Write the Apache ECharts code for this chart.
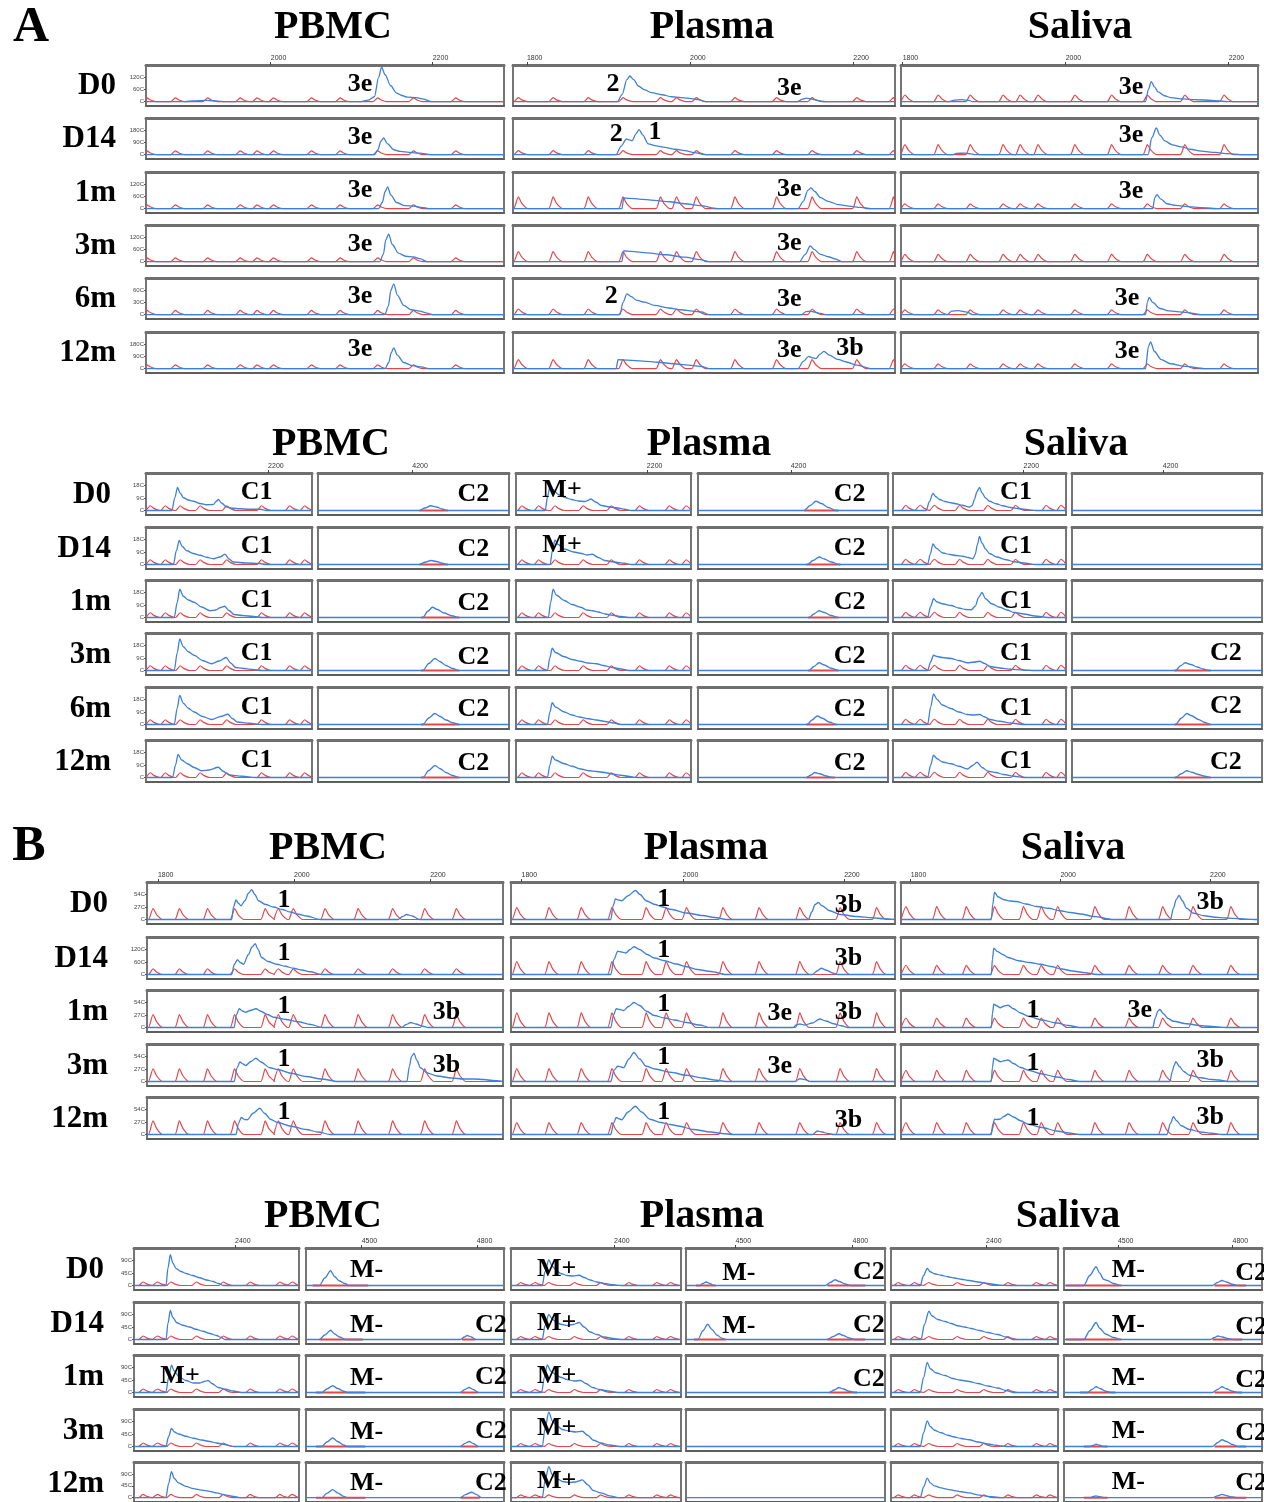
<!DOCTYPE html>
<html><head><meta charset="utf-8">
<script src="https://cdn.jsdelivr.net/npm/echarts@6/dist/echarts.min.js"></script>
<style>html,body{margin:0;padding:0;background:#fff}#c{width:1264px;height:1502px}</style>
</head><body><div id="c"></div>
<script>
// ---------------- DATA ----------------
const rowsA = ['D0','D14','1m','3m','6m','12m'];
const rowsB = ['D0','D14','1m','3m','12m'];
const samples = ['PBMC','Plasma','Saliva'];

// ---- A, upper block (x = % of panel width, y = signal units, 100 = top y-tick) ----
const aTopRulerTicks = [[2000,2200],[1800,2000,2200],[1800,2000,2200]];
const aTopRulerRange = [[1846,2288],[1783,2251],[1798,2236]];
const aTopYLabels = [['C','60C','120C'],['C','90C','180C'],['C','60C','120C'],['C','60C','120C'],['C','30C','60C'],['C','90C','180C']];
const aTopLadder = [
  [0.3,8.2,17.2,26.3,31.0,35.6,46.2,54.2,64.7,74.7,86.5],
  [1.4,10.5,19.7,28.8,38.6,42.8,48.0,58.1,69.0,78.3,90.0,99.6],
  [1.1,10.4,19.4,28.6,33.4,38.4,48.7,59.0,69.0,79.5,90.5]
];
const aTopLadderH = [[15,15,15,15,17,15],[16,16,48,41,23,37],[27,41,19,30,19,19]];
const aTopBlue = [
 [
  [[0,0],[11,0],[13,3],[17,5],[20,2],[22,0],[60,0],[62,6],[63.8,20],[65,100],[65.8,141],[66.8,110],[68.3,66],[70,35],[71.5,25],[73,18],[75.5,16],[77.5,10],[79.6,0],[100,0]],
  [[0,0],[63.8,0],[64.8,20],[65.6,55],[66.4,68],[67.4,45],[69.2,20],[71,13],[73.5,9],[76.5,6],[79.6,0],[100,0]],
  [[0,0],[65,0],[66,25],[66.8,70],[67.5,89],[68.4,55],[70,25],[72.3,12],[75,10],[77,5],[79,0],[100,0]],
  [[0,0],[65.3,0],[66.3,30],[67,90],[67.8,112],[68.8,70],[70.5,35],[72.5,22],[74.8,19],[76.5,12],[78.5,0],[100,0]],
  [[0,0],[66.7,0],[67.7,35],[68.4,100],[69.2,126],[70.2,80],[72,38],[74,20],[76.5,14],[78.5,6],[80,0],[100,0]],
  [[0,0],[66.8,0],[67.8,25],[68.5,65],[69.2,85],[70.2,55],[72,25],[74.5,12],[77,7],[79,0],[100,0]]
 ],
 [
  [[0,0],[27.3,0],[28.6,30],[29.8,90],[30.6,105],[31.6,90],[32.8,64],[34.5,48],[36.2,37],[39,28],[41.5,20],[44,16],[46.7,12],[48.5,8],[50.2,0],[74.5,0],[75.8,10],[76.8,14],[78.3,10],[80,4],[81.7,0],[100,0]],
  [[0,0],[27,0],[28.3,35],[29.7,64],[30.5,60],[31.2,57],[32.2,85],[33,102],[34,80],[35.4,44],[37.5,36],[39.7,30],[42.5,22],[45,16],[47.5,8],[50.2,0],[100,0]],
  [[0,0],[28.5,0],[29,44],[30.5,42],[33,39],[37,34],[41,28],[45,20],[49,12],[53.5,0],[74.6,0],[76,30],[77.2,75],[78,85],[79,70],[80.5,45],[82.5,30],[85.2,16],[88,10],[91,5],[93.7,0],[100,0]],
  [[0,0],[28.5,0],[29,44],[31,42],[35,36],[40,28],[45,18],[49,8],[51.4,0],[75,0],[76.5,30],[77.8,64],[78.8,50],[80.5,30],[82.5,20],[84.5,10],[86,0],[100,0]],
  [[0,0],[28,0],[28.8,50],[29.8,85],[30.8,75],[32.5,58],[34.5,51],[37,38],[40.8,27],[44,20],[47,14],[49.3,11],[51.4,0],[75.5,0],[76.7,12],[77.8,14],[79,10],[80.5,5],[82,0],[100,0]],
  [[0,0],[27,0],[27.5,37],[30,35],[34,31],[38,26],[42,20],[46,14],[49.5,8],[51.4,0],[74.6,0],[76,30],[77.4,50],[78.4,44],[79.3,41],[80.3,58],[81.4,71],[82.8,55],[85,38],[87.3,27],[90,14],[93.7,0],[100,0]]
 ],
 [
  [[0,0],[13.5,0],[15,6],[17,8],[19,5],[20,0],[68.5,0],[69.3,50],[70.1,82],[71,60],[72,40],[73.8,24],[75.7,16],[79,11],[82.3,8],[87,5],[91.6,0],[100,0]],
  [[0,0],[14.5,0],[15.5,5],[18,6],[19.5,3],[20.5,0],[69.2,0],[70.3,70],[71.5,109],[72.5,80],[73.9,56],[76,40],[78.5,32],[81,22],[84.1,14],[88,9],[91.6,4],[95,0],[100,0]],
  [[0,0],[70.5,0],[71.1,45],[71.7,57],[72.7,40],[74.5,20],[77,13],[79.6,9],[83,5],[88.7,0],[100,0]],
  [[0,0],[100,0]],
  [[0,0],[13,0],[14.2,14],[16,16],[18.5,10],[20,0],[68.5,0],[69,50],[69.5,71],[70.5,50],[72.5,25],[75,15],[79.6,9],[84,0],[100,0]],
  [[0,0],[68.5,0],[69.3,90],[69.9,109],[71,70],[72.9,37],[75.5,20],[79.6,9],[85,0],[100,0]]
 ]
];
const aTopNotes = [
 [[['3e',59.8,71]],[['3e',59.8,70]],[['3e',59.8,75]],[['3e',59.8,73]],[['3e',59.8,75]],[['3e',59.8,80]]],
 [[['2',26.2,73],['3e',72.3,55]],[['2',27,84],['1',37.2,91]],[['3e',72.3,79]],[['3e',72.3,75]],[['2',25.7,77],['3e',72.3,64]],[['3e',72.3,77],['3b',88.2,82]]],
 [[['3e',64.4,59]],[['3e',64.4,80]],[['3e',64.4,69]],[],[['3e',63.3,67]],[['3e',63.3,71]]]
];

// ---- A, lower block (left / right sub-panels) ----
const aBotRulerTicksL = [[2200],[2200],[2200]];
const aBotRulerRangeL = [[2047,2255],[2037,2255],[2037,2253]];
const aBotRulerTicksR = [[4200],[4200],[4200]];
const aBotRulerRangeR = [[3964,4442],[3968,4443],[3973,4448]];
const aBotYLabels = [['C','9C','18C'],['C','9C','18C'],['C','9C','18C'],['C','9C','18C'],['C','9C','18C'],['C','9C','18C']];
const aBotLadder = [
  [2.6,11.6,20.6,32.6,48.6,69.6,86.6,95.6],
  [3.4,12.9,22.3,38.4,54.5,70.6,87.7,97.2],
  [7.3,15.8,24.0,38.5,54.8,70.8,88.5,97.1]
];
const aBotLadderH = [[19,19,19,19,19,19],[19,19,19,19,19,19],[21,21,21,21,21,21]];
const aBotBlueL = [
 [
  [[0,0],[15.6,0],[17.3,50],[19,92],[20.5,70],[22.6,51],[25.5,42],[28.6,37],[32.6,28],[36.6,23],[40.6,24],[42.2,36],[43.6,44],[45.5,30],[48.6,14],[52,9],[56.6,7],[62,5],[68.6,5],[72.6,0],[100,0]],
  [[0,0],[16.5,0],[18.3,55],[20,96],[21.8,72],[24.6,55],[28.5,44],[32.6,37],[36.5,29],[40.6,23],[44.5,30],[47.6,41],[50,22],[52.6,10],[60,6],[68.6,4],[72,0],[100,0]],
  [[0,0],[17,0],[18.8,60],[20.3,113],[22.5,85],[25.5,70],[29,61],[33.5,42],[38.6,27],[42,30],[45,40],[47.3,45],[50,28],[53,12],[58,8],[65,4],[70,0],[100,0]],
  [[0,0],[17,0],[18.8,70],[20.3,126],[22.5,95],[25.5,75],[29,61],[34,40],[39.6,27],[44,38],[48.3,52],[51,30],[54,12],[58,9],[64,4],[70,0],[100,0]],
  [[0,0],[17,0],[18.8,65],[20.3,116],[22.5,85],[25.5,65],[29,50],[34,32],[39.6,20],[45,32],[49.3,41],[52,24],[55,10],[62,5],[70,0],[100,0]],
  [[0,0],[16,0],[17.8,50],[19.3,92],[21.5,70],[25,55],[29,40],[33.5,27],[38,30],[43.5,41],[46.5,25],[50,10],[58,5],[66,0],[100,0]]
 ],
 [
  [[0,0],[16.7,0],[18,55],[19.5,98],[21,85],[24.2,64],[28,52],[31.8,44],[35.5,38],[39.4,36],[41,40],[42.8,46],[45.5,34],[48.9,20],[53.5,14],[58.3,10],[62,5],[65.9,0],[100,0]],
  [[0,0],[19.5,0],[20.8,55],[22.3,98],[24,80],[28,61],[33,50],[37.5,44],[40.5,38],[43.6,41],[47,28],[50.8,16],[56,10],[62,5],[65.9,0],[100,0]],
  [[0,0],[18.5,0],[19.8,60],[21.2,113],[23,90],[27.6,68],[32,52],[36.9,41],[40.5,30],[43.8,27],[47,22],[51,14],[55.3,9],[60,4],[64.5,0],[100,0]],
  [[0,0],[18,0],[19.3,50],[20.7,89],[22.5,72],[27.6,55],[32,44],[36.9,37],[41,30],[46.1,27],[50,20],[55,12],[60,6],[64.5,0],[100,0]],
  [[0,0],[18,0],[19.3,48],[20.7,87],[22.5,70],[27.6,50],[32,38],[36,30],[41.5,23],[46,18],[51,12],[55,7],[59.9,0],[100,0]],
  [[0,0],[18,0],[19.3,48],[20.7,85],[22.5,70],[27.6,55],[32,45],[36.9,34],[42,27],[46,24],[50.7,20],[55,14],[60,9],[64,5],[69,0],[100,0]]
 ],
 [
  [[0,0],[19.2,0],[21,35],[23.1,68],[24.8,55],[26.9,44],[30,36],[33.5,31],[36.5,27],[40,21],[44.2,14],[45.8,20],[47.1,45],[48.5,75],[50,92],[51.5,70],[53.5,50],[55.8,37],[59.5,27],[63.5,19],[68,12],[73.1,7],[78,3],[82.7,0],[100,0]],
  [[0,0],[20,0],[21.5,40],[23.1,82],[25,65],[28.8,46],[33,40],[36.5,36],[40.4,33],[43.5,28],[46.2,23],[47.5,40],[48.8,80],[50,112],[51.5,85],[53.5,62],[55.8,44],[60,30],[65.4,19],[70,11],[76.9,5],[82,0],[100,0]],
  [[0,0],[20,0],[21.8,45],[23.4,75],[25.5,62],[28.5,55],[33.6,48],[38,38],[42,32],[45.3,31],[47.5,45],[49.5,80],[51.4,100],[53.5,75],[57,55],[61.7,41],[66,30],[70,20],[75.7,14],[82,6],[89.7,0],[100,0]],
  [[0,0],[20,0],[21.8,35],[23.4,61],[25.5,56],[28.5,52],[33.6,48],[38,40],[43,31],[46.5,33],[50,37],[53,28],[56,16],[61.7,10],[68,5],[75,2],[82,0],[100,0]],
  [[0,0],[20,0],[21.8,70],[23.4,122],[25.5,100],[28.5,78],[33.6,64],[38,50],[43,40],[46.5,38],[50,40],[53,30],[56,20],[61.7,13],[68,6],[75,0],[100,0]],
  [[0,0],[20,0],[21.8,50],[23.4,89],[25.5,75],[28.5,62],[33.6,55],[38,45],[43,34],[46,48],[48.6,61],[51.5,40],[55,25],[59.3,20],[64,12],[70,5],[75.7,0],[100,0]]
 ]
];
const aBotBlueR = [
 [
  [[0,0],[53,0],[56,10],[59.1,19],[62,14],[65,6],[67.8,0],[100,0]],
  [[0,0],[53,0],[56,9],[59.1,16],[62,12],[65,5],[67.8,0],[100,0]],
  [[0,0],[54.9,0],[57.5,25],[59.9,41],[62.5,32],[66,18],[70,7],[73.8,0],[100,0]],
  [[0,0],[54.9,0],[58,28],[61.2,48],[64,35],[67,20],[70.5,8],[73.8,0],[100,0]],
  [[0,0],[54.9,0],[58,26],[61.2,44],[64,32],[67,18],[70.5,7],[73.8,0],[100,0]],
  [[0,0],[54.9,0],[58,28],[61.2,48],[64,35],[67,20],[70.5,8],[73.8,0],[100,0]]
 ],
 [
  [[0,0],[55.9,0],[59,20],[62.1,37],[65,28],[68.5,12],[72.7,0],[100,0]],
  [[0,0],[57.7,0],[60.5,16],[63.8,30],[66.5,22],[70,10],[74.4,0],[100,0]],
  [[0,0],[58.5,0],[61,14],[63.7,27],[66.5,20],[70,8],[74,0],[100,0]],
  [[0,0],[58.5,0],[61,16],[63.7,31],[66.5,22],[70,9],[74,0],[100,0]],
  [[0,0],[57.5,0],[60,18],[62.8,34],[65.5,25],[69,10],[73,0],[100,0]],
  [[0,0],[57,0],[59.5,10],[61.5,20],[64,15],[67.5,6],[71,0],[100,0]]
 ],
 [
  [[0,0],[100,0]],
  [[0,0],[100,0]],
  [[0,0],[100,0]],
  [[0,0],[54.5,0],[57,18],[59.6,31],[62.5,24],[66,14],[69,6],[72.3,0],[100,0]],
  [[0,0],[54.5,0],[57.5,25],[60.4,44],[63,35],[66.5,20],[70,8],[73,0],[100,0]],
  [[0,0],[54.5,0],[57.5,15],[60.4,27],[63,21],[66.5,12],[70,5],[73,0],[100,0]]
 ]
];
const aBotRedR = [
 [[[53,68]],[[53,68]],[[54,74]],[[54,74]],[[54,74]],[[54,74]]],
 [[[56,74]],[[57,75]],[[58,74]],[[58,74]],[[57,73]],[[57,72]]],
 [[],[],[],[[54,73]],[[54,73]],[[54,73]]]
];
const aBotNotesL = [
 [[['C1',66.6,72]],[['C1',66.6,72]],[['C1',66.6,68]],[['C1',66.6,70]],[['C1',66.6,68]],[['C1',66.6,68]]],
 [[['M+',26.3,80]],[['M+',26.3,78]],[],[],[],[]],
 [[['C1',71.1,74]],[['C1',71.1,74]],[['C1',71.1,66]],[['C1',71.1,70]],[['C1',71.1,66]],[['C1',71.1,66]]]
];
const aBotNotesR = [
 [[['C2',81.3,66]],[['C2',81.3,62]],[['C2',81.3,58]],[['C2',81.3,54]],[['C2',81.3,62]],[['C2',81.3,58]]],
 [[['C2',79.8,66]],[['C2',79.8,66]],[['C2',79.8,62]],[['C2',79.8,58]],[['C2',79.8,62]],[['C2',79.8,58]]],
 [[],[],[],[['C2',81,70]],[['C2',81,74]],[['C2',81,62]]]
];

// ---- B, upper block ----
const bTopRulerTicks = [[1800,2000,2200],[1800,2000,2200],[1800,2000,2200]];
const bTopRulerRange = [[1784,2307],[1787,2263],[1787,2264]];
const bTopYLabels = [['C','27C','54C'],['C','60C','120C'],['C','27C','54C'],['C','27C','54C'],['C','27C','54C']];
const bTopLadder = [
  [1.7,9.1,17.0,24.6,33.2,36.9,41.1,50.0,59.3,69.0,78.0,86.9],
  [1.5,9.9,18.3,26.3,35.2,40.4,45.7,55.2,64.6,75.2,85.7,95.2],
  [1.4,10.0,18.3,26.2,34.3,39.3,43.9,54.3,63.9,73.3,81.8,92.4]
];
const bTopLadderH = [[44,23,52,51,55],[48,52,59,52,48],[52,37,38,45,48]];
const bTopBlue = [
 [
  [[0,0],[23.8,0],[24.3,50],[25,78],[25.7,65],[26.4,55],[27.5,75],[28.5,105],[29.4,119],[30.3,100],[31.3,75],[33.3,60],[35.5,50],[38,40],[40.2,30],[42.5,21],[44.9,14],[48.6,0],[70.5,0],[71.8,12],[72.9,20],[74.5,14],[76.6,0],[100,0]],
  [[0,0],[23.8,0],[24.5,40],[25.4,59],[26.2,48],[27.1,41],[28.5,80],[29.5,110],[30.4,123],[31.2,100],[32.2,68],[34,52],[36.4,41],[38.8,33],[41.1,25],[43.5,18],[45.8,11],[49,0],[100,0]],
  [[0,0],[24.5,0],[25.1,50],[25.9,75],[26.8,66],[27.7,61],[29,68],[30.6,75],[32,65],[33.8,52],[35.6,41],[39,32],[42.4,23],[46,12],[49.2,0],[71.5,0],[72.8,12],[74.1,20],[75.5,14],[77.5,5],[79,0],[100,0]],
  [[0,0],[24.5,0],[25.3,55],[26.1,78],[27,70],[27.7,64],[29.2,80],[30.6,93],[32,78],[34.5,55],[36.7,48],[40.5,33],[44.7,20],[49,10],[53.7,0],[73,0],[73.7,60],[74.3,100],[75,112],[75.8,85],[76.8,55],[78.7,34],[81.5,22],[85.5,14],[89,10],[92,10],[94.6,8],[97,4],[100,0]],
  [[0,0],[25,0],[25.7,45],[26.5,68],[27.4,60],[28.2,59],[29.8,85],[31.7,105],[33,85],[34.8,60],[36.7,48],[40.5,33],[44.7,20],[48,10],[51.5,0],[100,0]]
 ],
 [
  [[0,0],[26,0],[26.6,55],[27.2,82],[28,78],[28.8,75],[30.5,95],[32.4,116],[33.6,100],[35.2,75],[37.5,60],[39.5,50],[41.5,41],[45.7,26],[49.9,16],[53,8],[56.2,0],[77.5,0],[78.3,30],[79.2,60],[80,68],[81,55],[83,35],[85.7,20],[90,12],[94.1,7],[97,3],[100,0]],
  [[0,0],[26,0],[26.8,60],[27.8,93],[28.8,90],[29.9,86],[31,100],[32,111],[33.5,100],[35.5,80],[37.3,66],[40,55],[43,42],[45.7,31],[48.5,20],[52,12],[56,0],[78.5,0],[79.8,15],[80.8,25],[82,18],[84,5],[85,0],[100,0]],
  [[0,0],[26,0],[26.7,50],[27.4,75],[28.3,72],[29.3,68],[30.7,85],[32,100],[33.5,88],[35.3,65],[37.3,48],[40,38],[42.5,30],[45.7,20],[49,10],[52,0],[73.5,0],[74.3,10],[75.2,14],[76.5,10],[78.5,18],[80.4,34],[82,26],[84,15],[86,7],[87.8,0],[100,0]],
  [[0,0],[26,0],[26.8,45],[27.8,61],[28.8,58],[29.3,55],[30.7,90],[32,116],[33.5,90],[35.2,61],[37.5,50],[41.5,37],[45.7,25],[49.9,14],[53,6],[56,0],[74,0],[75.2,11],[76.5,8],[78,0],[100,0]],
  [[0,0],[26,0],[26.7,45],[27.4,68],[28.3,62],[28.8,59],[30.5,90],[32.4,113],[34,90],[36.2,61],[39,48],[41.5,40],[43.6,34],[47.5,20],[52,10],[55,4],[58,0],[78.5,0],[79.8,14],[81,10],[82.5,4],[84,0],[100,0]]
 ],
 [
  [[0,0],[25.3,0],[25.7,60],[26.2,109],[27.2,90],[28.9,79],[30.5,74],[32.3,72],[35,62],[38,52],[41.3,45],[44.5,35],[47.5,28],[50.3,22],[54,12],[59.4,0],[75.5,0],[76.3,45],[77.1,80],[77.9,96],[78.8,75],[80,45],[81.9,25],[85,15],[88,9],[91,6],[95,3],[99,0],[100,0]],
  [[0,0],[25.3,0],[25.6,60],[26,105],[27,92],[28.5,80],[30,68],[33,55],[36,48],[39.1,41],[42,32],[45,22],[48.1,14],[51,8],[55,0],[100,0]],
  [[0,0],[25.3,0],[25.6,55],[26,93],[26.9,86],[27.8,79],[28.9,86],[30,89],[31.5,75],[33.5,58],[35.7,45],[39.5,30],[43.6,18],[47,8],[50,0],[70.5,0],[71.3,40],[71.9,65],[72.5,72],[73.5,55],[74.8,36],[76.3,25],[80,15],[84.2,7],[88,3],[91,0],[100,0]],
  [[0,0],[25.3,0],[25.6,55],[26,93],[26.9,86],[27.8,79],[28.9,83],[30,86],[31.5,72],[33.5,56],[35.7,45],[39.5,30],[43.6,18],[47,8],[50,0],[75.3,0],[76,40],[76.5,65],[77,79],[78,60],[79.2,40],[80.8,25],[84,15],[87,8],[89,6],[91.5,0],[100,0]],
  [[0,0],[25.3,0],[25.7,40],[26.2,61],[27,60],[27.8,62],[28.9,73],[30,82],[31.5,70],[33.5,55],[35.7,41],[39.5,28],[43.6,14],[47,6],[50,0],[74.5,0],[75.5,45],[76.3,71],[77.2,55],[78.5,35],[80.8,20],[84,10],[87,5],[90,0],[100,0]]
 ]
];
const bTopNotes = [
 [[['1',38.5,76]],[['1',38.5,85]],[['1',38.5,83],['3b',84.1,62]],[['1',38.5,89],['3b',84.1,65]],[['1',38.5,90]]],
 [[['1',39.8,80],['3b',87.9,58]],[['1',39.8,96],['3b',87.9,65]],[['1',39.8,91],['3e',70,55],['3b',87.9,62]],[['1',39.8,96],['3e',70,61]],[['1',39.8,90],['3b',87.9,58]]],
 [[['3b',86.6,69]],[],[['1',37,68],['3e',66.9,70]],[['1',37,74],['3b',86.6,86]],[['1',37,66],['3b',86.6,69]]]
];

// ---- B, lower block ----
const bBotRulerTicksL = [[2400],[2400],[2400]];
const bBotRulerRangeL = [[2198,2528],[2194,2534],[2210,2544]];
const bBotRulerTicksR = [[4500,4800],[4500,4800],[4500,4800]];
const bBotRulerRangeR = [[4355,4871],[4373,4883],[4359,4877]];
const bBotYLabels = [['C','45C','90C'],['C','45C','90C'],['C','45C','90C'],['C','45C','90C'],['C','45C','90C']];
const bBotLadder = [
  [5.5,14.3,22.4,37.8,54.1,70.4,88.4,95.9],
  [5.7,14.2,22.2,37.3,52.8,69.3,85.8,93.9],
  [4.3,14.0,22.7,39.6,55.6,70.0,87.0,95.2]
];
const bBotLadderH = [[14,14,14,14,14],[12,12,12,12,12],[12,12,12,12,12]];
const bBotBlueL = [
 [
  [[0,0],[19.4,0],[20.6,70],[22,123],[23.5,90],[25.5,68],[28.5,56],[31.6,48],[35.5,40],[39.8,31],[44,22],[48,16],[51,8],[54.1,0],[100,0]],
  [[0,0],[19.4,0],[20.6,65],[22,116],[23.5,88],[26,67],[29.5,57],[33.7,50],[37.5,41],[41.8,33],[46,24],[50,16],[53,8],[55,0],[100,0]],
  [[0,0],[19.3,0],[21,60],[22.7,109],[24.5,85],[27,65],[31.4,48],[36,38],[40,38],[42.5,44],[44.9,48],[47.5,35],[51,20],[55.6,13],[60,6],[65.2,0],[100,0]],
  [[0,0],[19.3,0],[21,40],[22.7,72],[24.5,58],[27,50],[31.4,41],[36,33],[41,26],[45.9,20],[50,14],[55,8],[60.4,0],[100,0]],
  [[0,0],[19.3,0],[21,60],[22.7,109],[24.5,80],[27,62],[31.4,48],[36,38],[41,32],[45.9,27],[50,20],[55,12],[60.4,5],[65,0],[100,0]]
 ],
 [
  [[0,0],[18.4,0],[20,55],[22.2,102],[24.5,75],[27,58],[29.2,48],[33,40],[36.5,38],[40.1,41],[43,32],[46.5,22],[50.5,14],[55,8],[60,3],[64.6,0],[100,0]],
  [[0,0],[18.4,0],[20,55],[22.2,100],[24.5,80],[27,68],[29.2,61],[33,56],[36.5,60],[40.1,68],[43,50],[46.5,30],[50.5,20],[55,10],[60,4],[64.6,0],[100,0]],
  [[0,0],[18,0],[19.6,60],[21.3,110],[23.5,85],[26.5,70],[29.2,61],[33,52],[37,46],[41,48],[44,36],[48,20],[52,12],[57,6],[63,0],[100,0]],
  [[0,0],[18.4,0],[20,70],[22.2,137],[24.5,100],[27.5,80],[30.2,68],[34,62],[38,58],[42,61],[45,45],[48.5,25],[52.8,14],[58,6],[64,0],[100,0]],
  [[0,0],[18.4,0],[20,70],[22.2,130],[24.5,95],[27.5,78],[30.2,68],[34,64],[38,66],[42,75],[45,55],[48.5,30],[52.8,20],[58,8],[64,0],[100,0]]
 ],
 [
  [[0,0],[17.5,0],[19.5,40],[21.7,68],[23.5,55],[26,47],[30,41],[34,35],[38,30],[42,25],[46.9,20],[52,14],[58,8],[62,4],[66.2,1],[70,0],[100,0]],
  [[0,0],[18,0],[20,60],[22.7,113],[24.5,95],[28,80],[32.4,72],[36,64],[40,55],[44,50],[48,44],[53,36],[58,28],[63.8,20],[69,10],[73,0],[100,0]],
  [[0,0],[17.5,0],[19.5,60],[21.7,120],[23.5,95],[27,78],[32.4,68],[37,56],[41,50],[46.9,44],[52,36],[58,26],[63.8,18],[69,8],[73,0],[100,0]],
  [[0,0],[17.5,0],[19.5,55],[21.7,102],[23.5,80],[26,65],[30,55],[34,45],[38,38],[42,32],[46.9,27],[52,18],[58,10],[63,5],[66.2,2],[70,0],[100,0]],
  [[0,0],[17.5,0],[19.5,45],[21.7,82],[23.5,62],[26,50],[30,41],[34,35],[38,30],[42,25],[46.9,20],[52,12],[58,6],[66,0],[100,0]]
 ]
];
const bBotBlueR = [
 [
  [[0,0],[6.8,0],[9.5,30],[12.4,59],[14.5,35],[16.9,18],[19.5,8],[22,0],[100,0]],
  [[0,0],[6.8,0],[9.5,18],[12.4,37],[14.5,22],[16.9,10],[20,0],[78,0],[80,10],[81.4,16],[83.5,10],[85.6,0],[100,0]],
  [[0,0],[8,0],[10.5,14],[13.5,27],[16,16],[19,5],[21,0],[78,0],[80.2,12],[82.4,20],[84.5,12],[87,0],[100,0]],
  [[0,0],[8,0],[10.5,18],[13.5,34],[16,20],[19,6],[21,0],[78,0],[80.2,12],[82.4,20],[84.5,12],[87,0],[100,0]],
  [[0,0],[8,0],[10.5,18],[13.5,34],[16,20],[19,6],[21,0],[78,0],[80.5,13],[83.6,23],[86,14],[88.5,0],[100,0]]
 ],
 [
  [[0,0],[7,0],[8.5,8],[10.1,14],[12,8],[14,0],[70,0],[72.5,12],[74.9,23],[77,16],[80,6],[83,0],[100,0]],
  [[0,0],[6,0],[8.5,35],[10.9,61],[13,40],[15.5,18],[18,5],[20,0],[71,0],[74,12],[76.9,23],[79,16],[82,6],[85,0],[100,0]],
  [[0,0],[72,0],[74.5,10],[76.9,20],[79,14],[82,5],[85,0],[100,0]],
  [[0,0],[100,0]],
  [[0,0],[100,0]]
 ],
 [
  [[0,0],[10,0],[13,40],[16.2,75],[18,50],[20,25],[21.9,20],[25,8],[29,0],[75,0],[77.5,12],[79.8,20],[82,14],[85,5],[88,0],[100,0]],
  [[0,0],[10,0],[13,35],[16.2,68],[18,45],[21,22],[25,8],[29,0],[74,0],[76,8],[77.7,14],[80,10],[83,3],[86,0],[100,0]],
  [[0,0],[12,0],[14,12],[16.2,23],[18.5,15],[21,5],[24,0],[75,0],[77.5,12],[79.8,23],[82,15],[85,5],[88,0],[100,0]],
  [[0,0],[13,0],[15,5],[16.2,9],[18,5],[20,0],[75,0],[77.5,15],[79.8,27],[82,20],[85,8],[88,0],[100,0]],
  [[0,0],[13,0],[15,5],[16.2,8],[18,4],[20,0],[75,0],[77.5,8],[79.8,14],[82,9],[85,3],[88,0],[100,0]]
 ]
];
const bBotRedR = [
 [[[3.4,31.4]],[[6.8,28.8],[78.8,85.6]],[[5,30],[78,87]],[[5,30],[78,87]],[[5,30],[78,88]]],
 [[[5,15],[71,90]],[[4,20],[71,90]],[[72,86]],[],[]],
 [[[1,29],[76,92]],[[1,29],[75,90]],[[8,26],[76,90]],[[10,22],[76,92]],[[10,22],[76,92]]]
];
const bBotNotesL = [
 [[],[],[['M+',27.9,63]],[],[]],
 [[['M+',26.8,65]],[['M+',26.8,65]],[['M+',26.8,63]],[['M+',26.8,73]],[['M+',26.8,71]]],
 [[],[],[],[],[]]
];
const bBotNotesR = [
 [[['M-',30.6,62]],[['M-',30.6,58],['C2',93.4,58]],[['M-',30.6,55],['C2',93.4,60]],[['M-',30.6,58],['C2',93.4,62]],[['M-',30.6,62],['C2',93.4,62]]],
 [[['M-',26.5,50],['C2',91.9,52]],[['M-',26.5,53],['C2',91.9,55]],[['C2',91.9,53]],[],[]],
 [[['M-',32.5,62],['C2',94.5,49]],[['M-',32.5,58],['C2',94.5,50]],[['M-',32.5,55],['C2',94.5,50]],[['M-',32.5,59],['C2',94.5,54]],[['M-',32.5,65],['C2',94.5,61]]]
];

// ---------------- LAYOUT / STYLE ----------------
const RED = '#e2474c', BLUE = '#3f80d8', SERIF = '"Liberation Serif","Times New Roman",serif';
const Y_MIN = -18, Y_MAX = 150, Y_TICKS = [0, 50, 100];

const option = { animation: false, backgroundColor: '#fff', grid: [], xAxis: [], yAxis: [], series: [], graphic: [] };

function ladderPoints(pos, h, width) {
  const k = 100 / width;
  const pts = [[0, 0]];
  pos.forEach(p => {
    pts.push([Math.max(p - 4.5 * k, 0), 0], [p, h], [Math.min(p + 3.5 * k, 100), h * 0.45], [Math.min(p + 9.5 * k, 100), 0]);
  });
  pts.push([100, 0]);
  return pts;
}

function addPanel(p) {
  const gi = option.grid.length;
  option.grid.push({ left: p.left, top: p.top, width: p.width, height: p.height, show: true,
    borderColor: '#3c3c3c', borderWidth: 1.4, backgroundColor: '#fff' });
  const xi = option.xAxis.length;
  option.xAxis.push({ type: 'value', gridIndex: gi, min: 0, max: 100, position: 'bottom',
    axisLine: { show: true, onZero: false, lineStyle: { color: '#5e5e5e', width: 2 } },
    axisTick: { show: false }, axisLabel: { show: false }, splitLine: { show: false } });
  option.xAxis.push({ type: 'value', gridIndex: gi, position: 'top',
    min: p.ruler ? p.ruler.range[0] : 0, max: p.ruler ? p.ruler.range[1] : 100,
    axisLine: { show: true, onZero: false, lineStyle: { color: '#6f6f6f', width: 3 } },
    axisTick: { show: !!p.showRuler, customValues: p.ruler ? p.ruler.ticks : [], length: 3, lineStyle: { color: '#444' } },
    axisLabel: { show: !!p.showRuler, customValues: p.ruler ? p.ruler.ticks : [], fontSize: 7, color: '#333',
      align: 'left', margin: 3, fontFamily: 'Liberation Sans', formatter: v => String(v) },
    splitLine: { show: false } });
  const yi = option.yAxis.length;
  const yl = p.yLabels;
  option.yAxis.push({ type: 'value', gridIndex: gi, min: Y_MIN, max: Y_MAX,
    axisLine: { show: !!yl, lineStyle: { color: '#777', width: 1 } },
    axisTick: { show: !!yl, customValues: Y_TICKS, length: 2, lineStyle: { color: '#555' } },
    axisLabel: { show: !!yl, customValues: Y_TICKS, fontSize: 6, color: '#444', margin: 2, fontFamily: 'Liberation Sans',
      formatter: v => yl ? yl[Y_TICKS.indexOf(v)] : '' },
    splitLine: { show: false } });
  const base = { xAxisIndex: xi, yAxisIndex: yi, silent: true, symbol: 'none', clip: true };
  if (p.ladder) {
    option.series.push(Object.assign({ type: 'line', data: ladderPoints(p.ladder, p.ladderH, p.width),
      smooth: 0.2, lineStyle: { color: RED, width: 1.2 } }, base));
  }
  (p.redSegs || []).forEach(s => {
    option.series.push(Object.assign({ type: 'line', data: [[s[0], 0], [s[1], 0]],
      lineStyle: { color: RED, width: 2 } }, base));
  });
  option.series.push(Object.assign({ type: 'line', data: p.blue, smooth: 0.3, smoothMonotone: 'x',
    lineStyle: { color: BLUE, width: 1.3 } }, base));
  if (p.notes && p.notes.length) {
    option.series.push({ type: 'scatter', xAxisIndex: xi, yAxisIndex: yi, silent: true, symbolSize: 0.01,
      itemStyle: { color: '#000', opacity: 1 }, z: 10,
      data: p.notes.map(n => [n[1], n[2], n[0]]),
      label: { show: true, position: 'inside', formatter: q => q.data[2], fontSize: 26, fontWeight: 'bold',
        fontFamily: SERIF, color: '#000', opacity: 1, textBorderWidth: 0, textShadowBlur: 0 } });
  }
}

function txt(text, x, y, size, align) {
  option.graphic.push({ type: 'text', x: x, y: y, silent: true, z: 100,
    style: { text: text, fill: '#000', font: 'bold ' + size + 'px ' + SERIF,
      textAlign: align || 'center', textVerticalAlign: 'middle', verticalAlign: 'middle' } });
}

// --- A upper ---
const aTopCols = [{ l: 146, w: 358 }, { l: 513, w: 382 }, { l: 901, w: 357 }];
const aTopRowTop = [65, 118, 172, 225, 278, 332];
aTopCols.forEach((c, ci) => aTopRowTop.forEach((t, ri) => addPanel({
  left: c.l, width: c.w, top: t, height: 41,
  ladder: aTopLadder[ci], ladderH: aTopLadderH[ci][ri], blue: aTopBlue[ci][ri], notes: aTopNotes[ci][ri],
  ruler: { range: aTopRulerRange[ci], ticks: aTopRulerTicks[ci] }, showRuler: ri === 0,
  yLabels: ci === 0 ? aTopYLabels[ri] : null })));

// --- A lower ---
const aBotCols = [{ l: 146, w: 166, rl: 318, rw: 191 }, { l: 516, w: 175, rl: 698, rw: 190 }, { l: 893, w: 173, rl: 1072, rw: 190 }];
const aBotRowTop = [473, 527, 580, 633, 687, 740];
aBotCols.forEach((c, ci) => aBotRowTop.forEach((t, ri) => {
  addPanel({ left: c.l, width: c.w, top: t, height: 42,
    ladder: aBotLadder[ci], ladderH: aBotLadderH[ci][ri], blue: aBotBlueL[ci][ri], notes: aBotNotesL[ci][ri],
    ruler: { range: aBotRulerRangeL[ci], ticks: aBotRulerTicksL[ci] }, showRuler: ri === 0,
    yLabels: ci === 0 ? aBotYLabels[ri] : null });
  addPanel({ left: c.rl, width: c.rw, top: t, height: 42,
    redSegs: aBotRedR[ci][ri], blue: aBotBlueR[ci][ri], notes: aBotNotesR[ci][ri],
    ruler: { range: aBotRulerRangeR[ci], ticks: aBotRulerTicksR[ci] }, showRuler: ri === 0, yLabels: null });
}));

// --- B upper ---
const bTopCols = [{ l: 147, w: 356 }, { l: 511, w: 384 }, { l: 901, w: 357 }];
const bTopRowTop = [882, 937, 990, 1044, 1097];
bTopCols.forEach((c, ci) => bTopRowTop.forEach((t, ri) => addPanel({
  left: c.l, width: c.w, top: t, height: 42,
  ladder: bTopLadder[ci], ladderH: bTopLadderH[ci][ri], blue: bTopBlue[ci][ri], notes: bTopNotes[ci][ri],
  ruler: { range: bTopRulerRange[ci], ticks: bTopRulerTicks[ci] }, showRuler: ri === 0,
  yLabels: ci === 0 ? bTopYLabels[ri] : null })));

// --- B lower ---
const bBotCols = [{ l: 134, w: 165, rl: 306, rw: 198 }, { l: 511, w: 170, rl: 686, rw: 199 }, { l: 891, w: 167, rl: 1064, rw: 198 }];
const bBotRowTop = [1248, 1302, 1355, 1409, 1462];
bBotCols.forEach((c, ci) => bBotRowTop.forEach((t, ri) => {
  addPanel({ left: c.l, width: c.w, top: t, height: 42,
    ladder: bBotLadder[ci], ladderH: bBotLadderH[ci][ri], blue: bBotBlueL[ci][ri], notes: bBotNotesL[ci][ri],
    ruler: { range: bBotRulerRangeL[ci], ticks: bBotRulerTicksL[ci] }, showRuler: ri === 0,
    yLabels: ci === 0 ? bBotYLabels[ri] : null });
  addPanel({ left: c.rl, width: c.rw, top: t, height: 42,
    redSegs: bBotRedR[ci][ri], blue: bBotBlueR[ci][ri], notes: bBotNotesR[ci][ri],
    ruler: { range: bBotRulerRangeR[ci], ticks: bBotRulerTicksR[ci] }, showRuler: ri === 0, yLabels: null });
}));

// --- texts ---
txt('A', 31, 28, 50);
txt('B', 29, 847, 50);
[[333, 712, 1080, 28], [331, 709, 1076, 445], [328, 706, 1073, 849], [323, 702, 1068, 1217]].forEach(h => {
  samples.forEach((s, i) => txt(s, h[i], h[3], 40));
});
aTopRowTop.forEach((t, i) => txt(rowsA[i], 116, t + 21, 31, 'right'));
aBotRowTop.forEach((t, i) => txt(rowsA[i], 111, t + 22, 31, 'right'));
bTopRowTop.forEach((t, i) => txt(rowsB[i], 108, t + 22, 31, 'right'));
bBotRowTop.forEach((t, i) => txt(rowsB[i], 104, t + 22, 31, 'right'));

const chart = echarts.init(document.getElementById('c'), null, { renderer: 'canvas' });
chart.setOption(option);
</script></body></html>
